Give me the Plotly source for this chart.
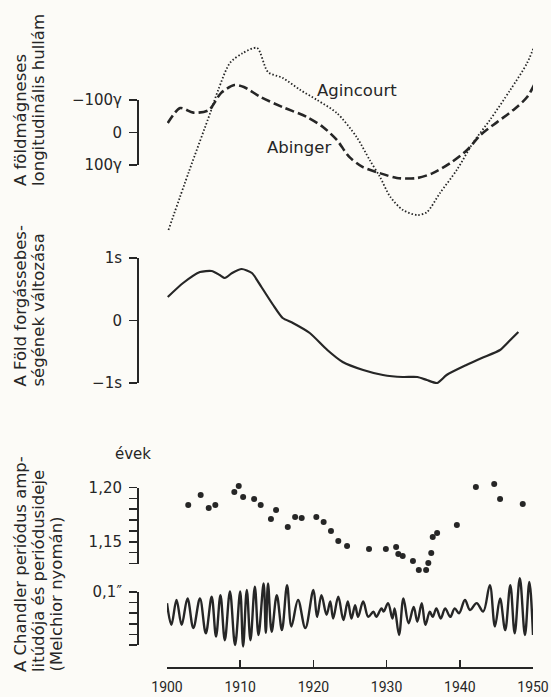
import plotly.graph_objects as go

W, H = 551, 697          # browser window; the page margin is removed below
INK = "#262626"
BG = "#fcfbf7"
FONT = "DejaVu Sans"

# ---------------- data ----------------
# top panel: geomagnetic longitudinal wave (gamma, positive downward)
ag_year = [1900.2, 1903.0, 1905.9, 1907.0, 1908.6, 1910.4, 1912.3, 1913.8, 1915.8, 1918.2,
           1920.5, 1923.2, 1925.9, 1927.7, 1929.1, 1930.5, 1932.2, 1934.2, 1935.5, 1937.3,
           1939.6, 1941.8, 1944.1, 1946.9, 1949.2, 1950.5]
ag_val = [300, 120, -60, -131, -214, -245, -260, -186, -168, -131,
          -100, -60, 14, 85, 137, 198, 238, 254, 245, 186,
          115, 32, -38, -131, -214, -285]

ab_year = [1900.1, 1901.8, 1903.6, 1905.7, 1907.4, 1909.2, 1910.5, 1912.8, 1915.8, 1919.1,
           1921.3, 1923.2, 1924.9, 1926.7, 1929.1, 1931.4, 1934.2, 1936.3, 1938.7, 1941.0,
           1942.8, 1945.1, 1947.3, 1949.2, 1950.5]
ab_val = [-29, -75, -61, -69, -122, -146, -140, -109, -78, -48,
          -17, 23, 75, 106, 125, 140, 140, 125, 94, 54,
          8, -32, -69, -109, -162]

# middle panel: variation of Earth's rotation (s)
rot_year = [1900.1, 1902.2, 1904.5, 1906.1, 1907.2, 1907.9, 1908.9, 1910.2, 1911.6, 1912.9,
            1914.5, 1915.8, 1917.2, 1919.5, 1921.9, 1924.0, 1926.8, 1929.5, 1932.2, 1934.2,
            1935.5, 1936.9, 1938.2, 1940.9, 1943.0, 1945.5, 1946.9, 1948.0]
rot_val = [0.376, 0.60, 0.776, 0.792, 0.728, 0.68, 0.76, 0.824, 0.76, 0.536,
           0.248, 0.04, -0.04, -0.20, -0.472, -0.664, -0.792, -0.872, -0.904, -0.904,
           -0.952, -1.0, -0.872, -0.712, -0.60, -0.472, -0.312, -0.184]

# bottom panel: Chandler period (years)
per_year = [1902.9, 1904.6, 1905.7, 1906.6, 1909.2, 1909.8, 1910.4, 1911.9, 1912.8, 1914.2,
            1914.9, 1916.5, 1917.5, 1918.4, 1920.4, 1921.4, 1922.4, 1923.4, 1924.6, 1927.6,
            1929.9, 1931.3, 1931.6, 1932.2, 1933.6, 1934.4, 1935.4, 1935.7, 1936.1, 1936.3,
            1936.9, 1939.6, 1942.2, 1944.7, 1945.5, 1948.6]
per_val = [1.1839, 1.1931, 1.1811, 1.1839, 1.1959, 1.2014, 1.1913, 1.1894, 1.1839, 1.1710,
           1.1793, 1.1636, 1.1728, 1.1719, 1.1728, 1.1682, 1.1599, 1.1508, 1.1461, 1.1434,
           1.1434, 1.1452, 1.1388, 1.1369, 1.1323, 1.1240, 1.1240, 1.1305, 1.1397, 1.1544,
           1.1581, 1.1655, 1.2005, 1.2032, 1.1894, 1.1848]

# bottom panel: Chandler amplitude wave (arcsec), peaks and troughs
amp_year = [1900.0, 1900.6, 1901.3, 1902.0, 1902.8, 1903.6, 1904.5, 1905.3, 1906.1, 1906.7,
            1907.3, 1907.9, 1908.6, 1909.3, 1910.0, 1910.4, 1910.9, 1911.4, 1912.0, 1912.5,
            1913.2, 1913.5, 1913.8, 1914.3, 1915.0, 1915.7, 1916.4, 1917.0, 1917.9, 1918.9,
            1920.0, 1920.5, 1921.1, 1921.8, 1922.3, 1922.7, 1923.4, 1924.1, 1924.7, 1925.2,
            1925.7, 1926.1, 1926.8, 1927.5, 1928.2, 1928.6, 1929.3, 1929.6, 1930.2, 1930.8,
            1931.1, 1931.7, 1932.3, 1933.0, 1933.7, 1934.2, 1934.8, 1935.3, 1935.9, 1936.3,
            1936.8, 1937.4, 1938.0, 1938.7, 1939.3, 1939.9, 1940.7, 1941.4, 1942.3, 1943.2,
            1944.1, 1944.8, 1945.5, 1946.2, 1946.9, 1947.5, 1948.2, 1948.9, 1949.5, 1950.0]
amp_val = [0.079, 0.038, 0.085, 0.038, 0.088, 0.032, 0.088, 0.022, 0.091, 0.016,
           0.094, 0.009, 0.101, 0.000, 0.101, -0.003, 0.104, 0.009, 0.110, 0.019,
           0.116, 0.023, 0.116, 0.025, 0.094, 0.028, 0.113, 0.035, 0.085, 0.032,
           0.104, 0.053, 0.094, 0.057, 0.082, 0.050, 0.091, 0.047, 0.082, 0.050,
           0.075, 0.053, 0.082, 0.053, 0.063, 0.053, 0.069, 0.063, 0.079, 0.050,
           0.069, 0.019, 0.088, 0.041, 0.072, 0.044, 0.079, 0.038, 0.063, 0.053,
           0.069, 0.050, 0.069, 0.053, 0.069, 0.060, 0.085, 0.066, 0.079, 0.063,
           0.113, 0.035, 0.088, 0.028, 0.113, 0.022, 0.126, 0.019, 0.119, 0.019]

year_ticks = [1900, 1910, 1920, 1930, 1940, 1950]


# ---------------- layout helpers (positions given in window pixels) ----------------
def px_x(x):
    return x / W


def px_y(y):
    return 1 - y / H


def mapped(px_top, px_bot, va, pa, vb, pb):
    k = (vb - va) / (pb - pa)
    v_top = va + (px_top - pa) * k
    v_bot = va + (px_bot - pa) * k
    return dict(domain=[px_y(px_bot), px_y(px_top)], range=[v_bot, v_top])


def bracket(va, pa, vb, pb, tickvals, ticktext):
    d = mapped(pa, pb, va, pa, vb, pb)
    d.update(anchor="free", position=px_x(137), side="left", showline=True,
             linecolor=INK, linewidth=1.5, ticks="outside", ticklen=8, tickwidth=1.5,
             tickcolor=INK, tickvals=tickvals, ticktext=ticktext, showgrid=False,
             zeroline=False, tickfont=dict(family=FONT, size=15, color=INK),
             ticklabelstandoff=4, automargin=False)
    return d


def hidden(**kw):
    d = mapped(**kw)
    d.update(visible=False, anchor="x", showgrid=False, zeroline=False, automargin=False)
    return d


fig = go.Figure()

fig.add_trace(go.Scatter(x=ag_year, y=ag_val, mode="lines", yaxis="y",
                         line=dict(color=INK, width=1.8, dash="1.5px,2px", shape="spline", smoothing=0.8)))
fig.add_trace(go.Scatter(x=ab_year, y=ab_val, mode="lines", yaxis="y",
                         line=dict(color=INK, width=2.6, dash="9px,4px", shape="spline", smoothing=0.8)))
fig.add_trace(go.Scatter(x=rot_year, y=rot_val, mode="lines", yaxis="y3",
                         line=dict(color=INK, width=2.2, shape="spline", smoothing=0.6)))
fig.add_trace(go.Scatter(x=per_year, y=per_val, mode="markers", yaxis="y5",
                         marker=dict(color=INK, size=6)))
fig.add_trace(go.Scatter(x=amp_year, y=amp_val, mode="lines", yaxis="y7",
                         line=dict(color=INK, width=2.4, shape="spline", smoothing=1)))
# anchors so that the bracket axes are drawn
for ax in ["y2", "y4", "y6", "y8"]:
    fig.add_trace(go.Scatter(x=[None], y=[None], yaxis=ax, mode="markers", hoverinfo="skip"))

fig.update_layout(
    template="none",
    width=W, height=H, autosize=False,
    margin=dict(l=0, r=0, t=0, b=0, pad=0),
    paper_bgcolor=BG, plot_bgcolor="rgba(0,0,0,0)",
    showlegend=False,
    font=dict(family=FONT, color=INK),
    xaxis=dict(domain=[px_x(167), px_x(533)], range=[1900, 1950], anchor="free",
               position=px_y(667), showline=True, linecolor=INK, linewidth=1.5,
               ticks="inside", ticklen=7, tickwidth=1.5, tickcolor=INK,
               tickvals=year_ticks, showgrid=False, zeroline=False, automargin=False,
               tickfont=dict(family="Roboto", size=14, color=INK), ticklabelstandoff=7),
    yaxis=hidden(px_top=28, px_bot=242, va=-100, pa=100, vb=100, pb=165),
    yaxis2=bracket(-100, 100, 100, 165, [-100, 0, 100], ["\u2212100\u03b3", "0", "100\u03b3"]),
    yaxis3=hidden(px_top=245, px_bot=395, va=1, pa=258, vb=-1, pb=383),
    yaxis4=bracket(1, 258, -1, 383, [-1, 0, 1], ["\u22121s", "0", "1s"]),
    yaxis5=hidden(px_top=475, px_bot=580, va=1.20, pa=487.5, vb=1.13, pb=563.5),
    yaxis6=bracket(1.20, 487.5, 1.13, 563.5,
                   [1.13, 1.14, 1.15, 1.16, 1.17, 1.18, 1.19, 1.20],
                   ["", "", "1,15", "", "", "", "", "1,20"]),
    yaxis7=hidden(px_top=570, px_bot=655, va=0.1, pa=592, vb=0.0, pb=645),
    yaxis8=bracket(0.1, 592, 0.0, 645, [0.0, 0.02, 0.04, 0.06, 0.08, 0.1],
                   ["", "", "", "", "", "0,1\u2033"]),
)

ann = []
tfont = dict(family=FONT, size=16.5, color=INK)


def title_line(text, xpx, ybot):
    ann.append(dict(text=text, xref="paper", yref="paper", x=px_x(xpx), y=px_y(ybot),
                    xanchor="center", yanchor="bottom", textangle=-90, showarrow=False,
                    font=tfont))


title_line("A földmágneses", 20, 188)
title_line("longitudinális hullám", 38, 188)
title_line("A Föld forgássebes-", 20, 389)
title_line("ségének változása", 38, 389)
title_line("A Chandler periódus amp-", 20, 674)
title_line("litúdója és periódusideje", 38, 674)
title_line("(Melchior nyomán)", 56, 674)

ann.append(dict(text="Agincourt", xref="x", yref="y", x=1926.0, y=-128, showarrow=False,
                font=dict(family=FONT, size=16.5, color=INK)))
ann.append(dict(text="Abinger", xref="x", yref="y", x=1918.0, y=45, showarrow=False,
                font=dict(family=FONT, size=16.5, color=INK)))
ann.append(dict(text="évek", xref="paper", yref="paper", x=px_x(113), y=px_y(465),
                showarrow=False, font=dict(family=FONT, size=15, color=INK)))

fig.update_layout(annotations=ann)
fig.write_html("out.html",
               config={"displayModeBar": False, "staticPlot": True},
               post_script="document.body.style.margin='0';"
                           "document.body.style.overflow='hidden';"
                           "document.body.style.background='" + BG + "';")
